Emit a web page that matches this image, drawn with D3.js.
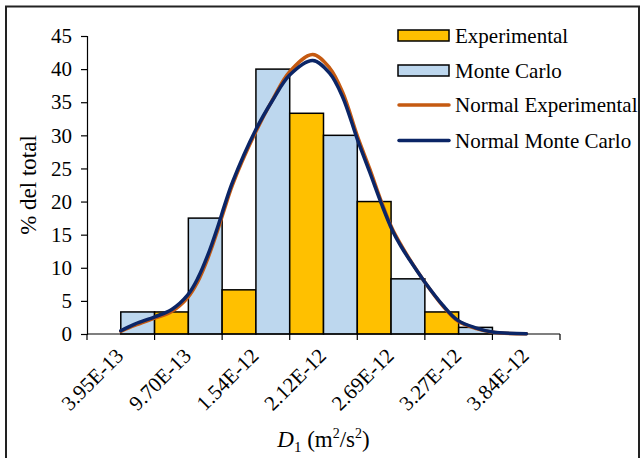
<!DOCTYPE html>
<html>
<head>
<meta charset="utf-8">
<script src="https://cdn.jsdelivr.net/npm/d3@7"></script>
<style>
  html, body { margin: 0; padding: 0; background: #fff; }
  svg text { font-family: "Liberation Serif", "Times New Roman", serif; fill: #000; }
</style>
</head>
<body>
<svg id="chart" width="642" height="458"></svg>
<script>
// Histogram classes (class mark of D1, m²/s²)
const categories = ["3.95E-13", "9.70E-13", "1.54E-12", "2.12E-12", "2.69E-12", "3.27E-12", "3.84E-12"];
// Percentage of total per class
const experimental = [0, 3.33, 6.67, 33.33, 20, 3.33, 0];
const monteCarlo   = [3.33, 17.5, 40, 30, 8.33, 1, 0];
// Fitted normal curves, sampled along D1 (m²/s²)
const normalD = [0.395e-12, 0.514e-12, 0.684e-12, 0.828e-12, 0.964e-12, 1.049e-12, 1.134e-12, 1.219e-12,
                 1.278e-12, 1.346e-12, 1.541e-12, 1.685e-12, 1.830e-12, 2.025e-12, 2.169e-12, 2.280e-12,
                 2.407e-12, 2.509e-12, 2.611e-12, 2.704e-12, 2.781e-12, 2.849e-12, 2.976e-12, 3.129e-12,
                 3.256e-12, 3.417e-12, 3.553e-12, 3.842e-12];
const normalExperimental = [0.4, 1.3, 2.4, 3.4, 5.5, 7.9, 11.4, 15.7, 19.0, 22.6, 30.5, 35.4, 39.6, 42.2,
                            40.2, 36.5, 29.8, 25.0, 19.9, 15.8, 13.3, 11.3, 7.9, 4.3, 2.0, 0.8, 0.25, 0.03];
const normalMonteCarlo   = [0.5, 1.5, 2.6, 3.7, 5.9, 8.4, 11.9, 16.2, 19.5, 23.0, 30.8, 35.3, 39.1, 41.3,
                            39.4, 35.8, 29.3, 24.5, 19.6, 15.6, 13.1, 11.2, 7.9, 4.4, 2.1, 0.9, 0.3, 0.05];
const yTicks = [0, 5, 10, 15, 20, 25, 30, 35, 40, 45];

const legendItems = [
  { label: "Experimental", kind: "bar", color: "#FFC000" },
  { label: "Monte Carlo", kind: "bar", color: "#BDD7EE" },
  { label: "Normal Experimental", kind: "line", color: "#C55A11" },
  { label: "Normal Monte Carlo", kind: "line", color: "#0B2566" }
];

const svg = d3.select("#chart");
const plot = { left: 87, right: 560, top: 36, bottom: 334 };
const fontSize = 21;
const titleSize = 23;

// outer frame
svg.append("rect")
  .attr("x", 6).attr("y", 6.5).attr("width", 633).attr("height", 470)
  .attr("fill", "none").attr("stroke", "#222").attr("stroke-width", 2);

const x = d3.scaleBand().domain(categories).range([plot.left, plot.right]).padding(0);
const sub = d3.scaleBand().domain(["exp", "mc"]).range([0, x.bandwidth()]).padding(0);
const y = d3.scaleLinear().domain([0, 45]).range([plot.bottom, plot.top]);
const xc = d3.scaleLinear()
  .domain([+categories[0], +categories[categories.length - 1]])
  .range([x(categories[0]) + x.bandwidth() / 2, x(categories[categories.length - 1]) + x.bandwidth() / 2]);

// bars
const barData = [];
categories.forEach((c, i) => {
  barData.push({ c, key: "exp", v: experimental[i], color: "#FFC000" });
  barData.push({ c, key: "mc", v: monteCarlo[i], color: "#BDD7EE" });
});
svg.append("g").selectAll("rect")
  .data(barData.filter(d => d.v > 0))
  .join("rect")
  .attr("x", d => x(d.c) + sub(d.key))
  .attr("y", d => y(d.v))
  .attr("width", sub.bandwidth())
  .attr("height", d => y(0) - y(d.v))
  .attr("fill", d => d.color)
  .attr("stroke", "#000")
  .attr("stroke-width", 1.5);

// axes
const yAxis = svg.append("g")
  .attr("transform", `translate(${plot.left},0)`)
  .call(d3.axisLeft(y).tickValues(yTicks).tickSize(6).tickPadding(9));
yAxis.select(".domain").attr("stroke", "#000").attr("stroke-width", 1.2);
yAxis.selectAll(".tick line").attr("stroke", "#000").attr("stroke-width", 1.2);
yAxis.selectAll(".tick text").attr("font-size", fontSize).attr("font-family", "Liberation Serif");

const xAxis = svg.append("g").attr("transform", `translate(0,${plot.bottom})`);
xAxis.append("line")
  .attr("x1", plot.left).attr("x2", plot.right)
  .attr("stroke", "#000").attr("stroke-width", 1.2);
const bounds = categories.map(c => x(c)).concat([plot.right]);
xAxis.selectAll("line.tick").data(bounds).join("line")
  .attr("class", "tick")
  .attr("x1", d => d).attr("x2", d => d)
  .attr("y1", 0).attr("y2", 6)
  .attr("stroke", "#000").attr("stroke-width", 1.2);
xAxis.selectAll("text").data(categories).join("text")
  .attr("transform", d => `translate(${x(d) + x.bandwidth() / 2 + 4},${23}) rotate(-45)`)
  .attr("text-anchor", "end")
  .attr("font-size", fontSize)
  .text(d => d);

// normal curves
const line = d3.line()
  .x((d, i) => xc(normalD[i]))
  .y(d => y(d))
  .curve(d3.curveCatmullRom.alpha(0.5));
svg.append("path").datum(normalExperimental)
  .attr("d", line).attr("fill", "none")
  .attr("stroke", "#C55A11").attr("stroke-width", 3.5).attr("stroke-linecap", "round");
svg.append("path").datum(normalMonteCarlo)
  .attr("d", line).attr("fill", "none")
  .attr("stroke", "#0B2566").attr("stroke-width", 3.5).attr("stroke-linecap", "round");

// axis titles
svg.append("text")
  .attr("transform", `translate(36,${(plot.top + plot.bottom) / 2}) rotate(-90)`)
  .attr("text-anchor", "middle")
  .attr("font-size", titleSize)
  .text("% del total");

const xt = svg.append("text")
  .attr("x", (plot.left + plot.right) / 2).attr("y", 447)
  .attr("text-anchor", "middle")
  .attr("font-size", titleSize);
xt.append("tspan").attr("font-style", "italic").text("D");
xt.append("tspan").attr("font-size", 15).attr("dy", 5).text("1");
xt.append("tspan").attr("dy", -5).text(" (m");
xt.append("tspan").attr("font-size", 14).attr("dy", -9).text("2");
xt.append("tspan").attr("dy", 9).text("/s");
xt.append("tspan").attr("font-size", 14).attr("dy", -9).text("2");
xt.append("tspan").attr("dy", 9).text(")");

// legend
const legend = svg.append("g").attr("transform", "translate(398,0)");
const rowY = [35.5, 70.5, 105, 140.5];
legendItems.forEach((d, i) => {
  const g = legend.append("g").attr("transform", `translate(0,${rowY[i]})`);
  if (d.kind === "bar") {
    g.append("rect").attr("x", 0).attr("y", -5.5).attr("width", 51).attr("height", 11)
      .attr("fill", d.color).attr("stroke", "#000").attr("stroke-width", 1.5);
  } else {
    g.append("line").attr("x1", 1).attr("x2", 51).attr("y1", 0).attr("y2", 0)
      .attr("stroke", d.color).attr("stroke-width", 3.5).attr("stroke-linecap", "round");
  }
  g.append("text").attr("x", 57).attr("y", 7).attr("font-size", fontSize).text(d.label);
});
</script>
</body>
</html>
